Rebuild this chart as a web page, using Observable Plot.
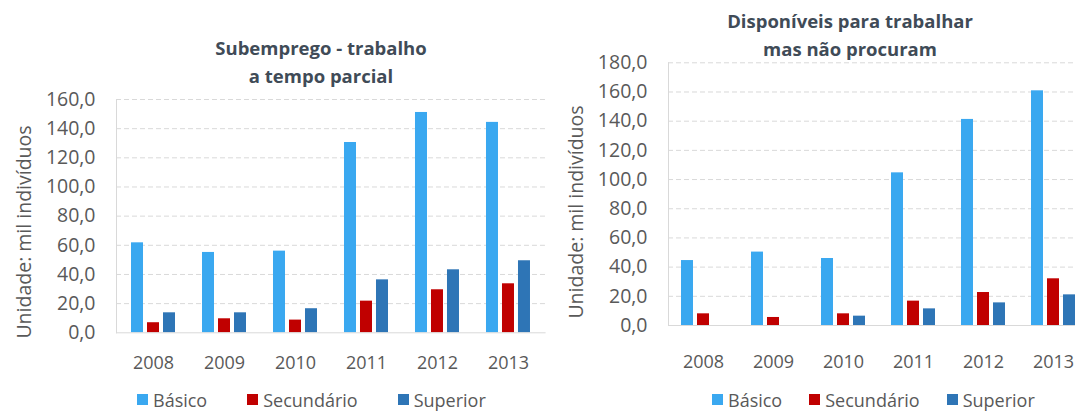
<!DOCTYPE html>
<html>
<head>
<meta charset="utf-8">
<script src="https://cdn.jsdelivr.net/npm/d3@7"></script>
<script src="https://cdn.jsdelivr.net/npm/@observablehq/plot@0.6"></script>
<style>
  html, body { margin: 0; padding: 0; background: #fff; overflow: hidden; }
  #root { position: relative; width: 1075px; height: 412px; overflow: hidden; font-family: "Open Sans", sans-serif; }
  .panel { position: absolute; top: 0; }
  .panel svg { max-width: none !important; }
  .title { position: absolute; font-weight: 700; font-size: 18.5px; color: #404b57; text-align: center; line-height: 29px; white-space: nowrap; transform: translateX(-50%); }
  .ytitle { position: absolute; font-size: 19.5px; color: #595959; white-space: nowrap; line-height: 22px; transform: translate(-50%, -50%) rotate(-90deg); }
  .legend { position: absolute; display: flex; align-items: center; font-size: 18px; line-height: 18px; color: #595959; white-space: nowrap; }
  .legend .item { display: flex; align-items: center; }
  .legend .sw { width: 11px; height: 11px; margin-right: 5px; display: inline-block; }
</style>
</head>
<body>
<div id="root"></div>
<script>
const years = ["2008", "2009", "2010", "2011", "2012", "2013"];
const series = ["Básico", "Secundário", "Superior"];
const colors = ["#3aa8f0", "#c00000", "#2e75b6"];

const subTitle = ["Subemprego - trabalho", "a tempo parcial"];
const subBasico = [61.7, 55.1, 56.0, 130.5, 151.1, 144.3];
const subSecundario = [6.9, 9.6, 8.7, 21.7, 29.5, 33.6];
const subSuperior = [13.7, 13.7, 16.5, 36.3, 43.2, 49.4];
const subTicks = [0, 20, 40, 60, 80, 100, 120, 140, 160];

const dispTitle = ["Disponíveis para trabalhar", "mas não procuram"];
const dispBasico = [44.5, 50.3, 45.9, 104.6, 141.2, 160.8];
const dispSecundario = [8.0, 5.5, 8.0, 16.7, 22.6, 32.0];
const dispSuperior = [null, null, 6.4, 11.4, 15.5, 21.0];
const dispTicks = [0, 20, 40, 60, 80, 100, 120, 140, 160, 180];

const yLabel = "Unidade: mil indivíduos";
const fmt = d => d.toFixed(1).replace(".", ",");

function makeChart(cfg) {
  const vals = [cfg.basico, cfg.sec, cfg.sup];
  const data = [];
  years.forEach((yr, i) => series.forEach((s, k) => {
    if (vals[k][i] != null) data.push({year: yr, serie: s, value: vals[k][i]});
  }));
  const barW = 12.3, barStep = 16;
  const pin = 1 - barW / cfg.step;
  const offsets = [-barStep, 0, barStep];
  const ticks = cfg.ticks;
  return Plot.plot({
    width: cfg.marginLeft + cfg.step * years.length,
    height: cfg.marginTop + cfg.plotH + 60,
    marginLeft: cfg.marginLeft,
    marginRight: 0,
    marginTop: cfg.marginTop,
    marginBottom: 60,
    style: {fontFamily: "Open Sans", fontSize: "18px", color: "#595959", background: "transparent", overflow: "visible", maxWidth: "none"},
    x: {domain: years, paddingInner: pin, paddingOuter: pin / 2, label: null},
    y: {domain: [0, ticks[ticks.length - 1]], label: null},
    color: {domain: series, range: colors},
    marks: [
      Plot.gridY(ticks.filter(t => t > 0), {stroke: "#d9d9d9", strokeOpacity: 1, strokeDasharray: "5,3"}),
      Plot.frame({anchor: "left", stroke: "#d9d9d9"}),
      ...series.map((s, k) => Plot.barY(data.filter(d => d.serie === s), {x: "year", y: "value", fill: "serie", dx: offsets[k]})),
      Plot.ruleY([0], {stroke: "#d9d9d9"}),
      Plot.axisY(ticks, {tickSize: 0, tickPadding: 21, tickFormat: fmt, fontSize: 19.5, label: null}),
      Plot.axisX({tickSize: 0, tickPadding: cfg.xPad, fontSize: 18, label: null})
    ]
  });
}

const root = document.getElementById("root");

function addPanel(cfg) {
  const wrap = document.createElement("div");
  wrap.className = "panel";
  wrap.style.left = cfg.left + "px";
  wrap.style.width = (cfg.marginLeft + cfg.step * years.length) + "px";
  wrap.appendChild(makeChart(cfg));
  root.appendChild(wrap);

  cfg.title.forEach((t, i) => {
    const d = document.createElement("div");
    d.className = "title";
    d.textContent = t;
    d.style.left = cfg.titleX + "px";
    d.style.top = (cfg.titleY + i * 28.5 - 14.5) + "px";
    root.appendChild(d);
  });

  const yt = document.createElement("div");
  yt.className = "ytitle";
  yt.textContent = yLabel;
  yt.style.left = cfg.yTitleX + "px";
  yt.style.top = cfg.yTitleY + "px";
  root.appendChild(yt);

  const lg = document.createElement("div");
  lg.className = "legend";
  lg.style.left = cfg.legendX + "px";
  lg.style.top = (cfg.legendY - 9) + "px";
  lg.style.gap = cfg.legendGap + "px";
  series.forEach((s, k) => {
    const it = document.createElement("span");
    it.className = "item";
    const sw = document.createElement("span");
    sw.className = "sw";
    sw.style.background = colors[k];
    it.appendChild(sw);
    it.appendChild(document.createTextNode(s));
    lg.appendChild(it);
  });
  root.appendChild(lg);
}

addPanel({
  left: 0, marginLeft: 116, step: 71.6, marginTop: 99, plotH: 233.3, xPad: 23,
  basico: subBasico, sec: subSecundario, sup: subSuperior, ticks: subTicks,
  title: subTitle, titleX: 321, titleY: 47,
  yTitleX: 24, yTitleY: 232,
  legendX: 137, legendY: 399.5, legendGap: 40
});

addPanel({
  left: 545, marginLeft: 123, step: 70, marginTop: 62.3, plotH: 262.7, xPad: 30,
  basico: dispBasico, sec: dispSecundario, sup: dispSuperior, ticks: dispTicks,
  title: dispTitle, titleX: 850, titleY: 20,
  yTitleX: 576, yTitleY: 212,
  legendX: 712, legendY: 399.5, legendGap: 27
});
</script>
</body>
</html>
